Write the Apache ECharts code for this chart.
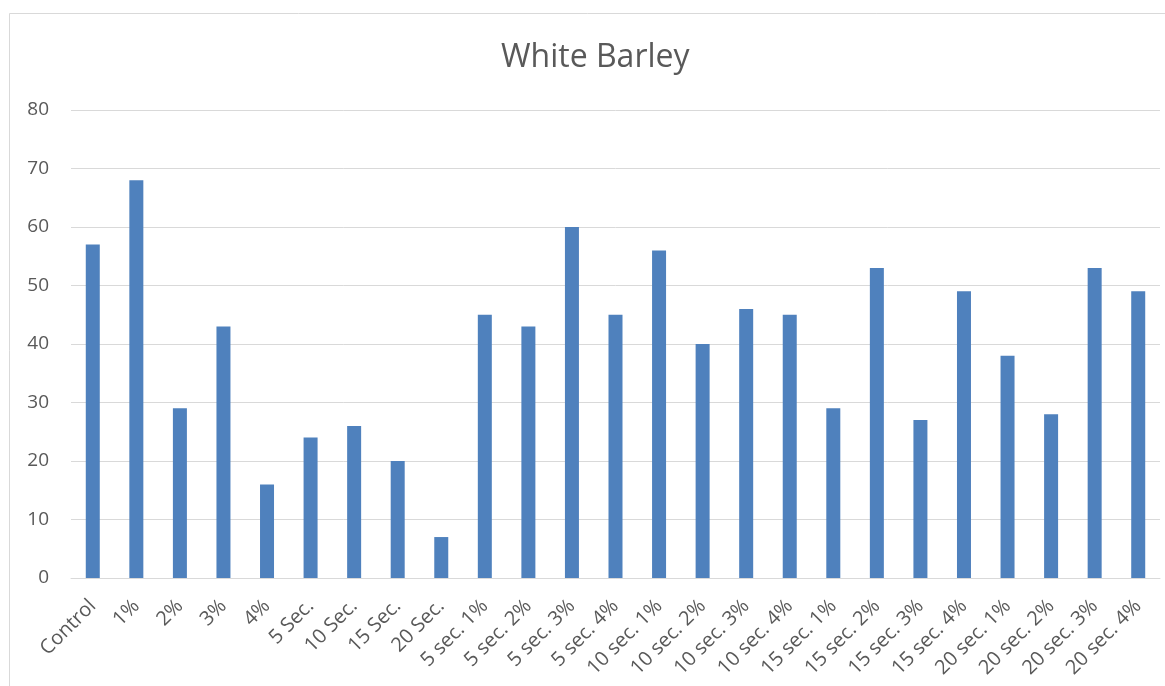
<!DOCTYPE html>
<html>
<head>
<meta charset="utf-8">
<title>White Barley</title>
<script src="https://cdn.jsdelivr.net/npm/echarts@6/dist/echarts.min.js"></script>
<style>
  html, body { margin: 0; padding: 0; background: #ffffff; }
  #chart { width: 1165px; height: 686px; }
</style>
</head>
<body>
<div id="chart"></div>
<script>
// Treatment groups along the x axis
const categories = [
  'Control', '1%', '2%', '3%', '4%',
  '5 Sec.', '10 Sec.', '15 Sec.', '20 Sec.',
  '5 sec. 1%', '5 sec. 2%', '5 sec. 3%', '5 sec. 4%',
  '10 sec. 1%', '10 sec. 2%', '10 sec. 3%', '10 sec. 4%',
  '15 sec. 1%', '15 sec. 2%', '15 sec. 3%', '15 sec. 4%',
  '20 sec. 1%', '20 sec. 2%', '20 sec. 3%', '20 sec. 4%'
];

// Measured value for each treatment
const values = [
  57, 68, 29, 43, 16,
  24, 26, 20, 7,
  45, 43, 60, 45,
  56, 40, 46, 45,
  29, 53, 27, 49,
  38, 28, 53, 49
];

// Value axis ticks
const yTicks = [0, 10, 20, 30, 40, 50, 60, 70, 80];

const textColor = '#595959';
const fontFamily = '"Open Sans", "Noto Sans", "Liberation Sans", sans-serif';

const chart = echarts.init(document.getElementById('chart'), null, { renderer: 'canvas' });

chart.setOption({
  backgroundColor: '#ffffff',
  animation: false,
  textStyle: { fontFamily: fontFamily },
  title: {
    text: 'White Barley',
    left: 501,
    top: 42,
    padding: 0,
    textStyle: { color: textColor, fontSize: 32, fontWeight: 'normal', fontFamily: fontFamily }
  },
  graphic: [{
    type: 'rect',
    left: 7,
    top: 11,
    shape: { width: 1200, height: 700 },
    style: { fill: 'none', stroke: '#d9d9d9', lineWidth: 1 },
    silent: true,
    z: -10
  }],
  grid: {
    left: 71,
    right: 5,
    top: 110,
    bottom: 108,
    containLabel: false
  },
  xAxis: {
    type: 'category',
    data: categories,
    axisTick: { show: false },
    axisLine: { show: true, lineStyle: { color: '#d9d9d9', width: 1 } },
    axisLabel: {
      interval: 0,
      rotate: 45,
      color: textColor,
      fontSize: 20,
      margin: 25,
      fontFamily: fontFamily
    }
  },
  yAxis: {
    type: 'value',
    min: yTicks[0],
    max: yTicks[yTicks.length - 1],
    interval: yTicks[1] - yTicks[0],
    axisLine: { show: false },
    axisTick: { show: false },
    splitLine: { lineStyle: { color: '#d9d9d9', width: 1 } },
    axisLabel: {
      color: textColor,
      fontSize: 19,
      margin: 22,
      fontFamily: fontFamily
    }
  },
  series: [{
    type: 'bar',
    data: values,
    barWidth: 14,
    itemStyle: { color: '#4f81bd' }
  }]
});
</script>
</body>
</html>
